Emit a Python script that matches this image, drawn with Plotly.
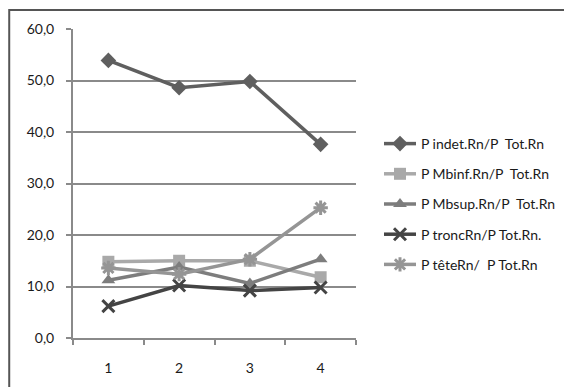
import plotly.graph_objects as go

categories = [1, 2, 3, 4]
tick_labels = ["1", "2", "3", "4"]
series_names = ["P indet.Rn/P  Tot.Rn", "P Mbinf.Rn/P  Tot.Rn", "P Mbsup.Rn/P  Tot.Rn",
                "P troncRn/P Tot.Rn.", "P têteRn/  P Tot.Rn"]
indet = [53.9, 48.6, 49.8, 37.6]
mbinf = [14.8, 15.0, 15.0, 11.8]
mbsup = [11.2, 13.8, 10.6, 15.3]
tronc = [6.2, 10.2, 9.2, 9.8]
tete = [13.6, 12.4, 15.3, 25.3]
y_ticks = [0, 10, 20, 30, 40, 50, 60]
y_tick_labels = ["0,0", "10,0", "20,0", "30,0", "40,0", "50,0", "60,0"]

values = [indet, mbinf, mbsup, tronc, tete]
colors = ["#5f5f5f", "#a9a9a9", "#7d7d7d", "#444444", "#959595"]
symbols = ["diamond", "square", "triangle-up", "x-thin-open", "asterisk-open"]
sizes = [12, 12, 12, 12, 12]

fig = go.Figure()
for i, (name, vals) in enumerate(zip(series_names, values)):
    marker = dict(symbol=symbols[i], size=sizes[i], color=colors[i])
    if symbols[i].endswith("open"):
        marker["line"] = dict(color=colors[i], width=3)
    fig.add_trace(go.Scatter(
        x=categories, y=vals, name=name, mode="lines+markers",
        line=dict(color=colors[i], width=3.5), marker=marker,
        legendgroup=f"g{i}",
    ))

# page body adds an 8px offset; figure coordinates = reference - 8
OFF = 8
W, H = 572 - OFF, 387 - OFF
L, T = 73 - OFF, 29 - OFF
plot_right, plot_bottom = 357 - OFF, 338 - OFF
R, B = W - plot_right, H - plot_bottom
pw, ph = plot_right - L, plot_bottom - T

txt = "#1a1a1a"
fig.update_layout(
    width=W, height=H,
    margin=dict(l=L, r=R, t=T, b=B),
    paper_bgcolor="white", plot_bgcolor="white",
    font=dict(family="Lato, Open Sans, sans-serif", size=14, color=txt),
    showlegend=True,
    legend=dict(x=(379 - OFF - L) / pw, y=(plot_bottom - (128 - OFF)) / ph,
                xanchor="left", yanchor="top",
                traceorder="grouped", tracegroupgap=9, itemwidth=32,
                font=dict(family="Lato, Open Sans, sans-serif", size=14, color=txt),
                bgcolor="rgba(0,0,0,0)"),
    xaxis=dict(range=[0.5, 4.5], tickmode="array", tickvals=categories, ticktext=tick_labels,
               tickfont=dict(color=txt, size=14),
               showgrid=False, zeroline=False, showline=True, linecolor="#8a8a8a", linewidth=2,
               ticks="", ticklabelstandoff=16,
               minor=dict(tickmode="array", tickvals=[0.5, 1.5, 2.5, 3.5, 4.5], ticks="outside",
                          ticklen=5, tickcolor="#8a8a8a", tickwidth=2, showgrid=False)),
    yaxis=dict(range=[0, 60], tickmode="array", tickvals=y_ticks, ticktext=y_tick_labels,
               tickfont=dict(color=txt, size=14),
               showgrid=True, gridcolor="#8a8a8a", gridwidth=2, zeroline=False,
               showline=True, linecolor="#8a8a8a", linewidth=2,
               ticks="outside", ticklen=5, tickcolor="#8a8a8a", tickwidth=2,
               ticklabelstandoff=9),
    shapes=[dict(type="rect", xref="paper", yref="paper",
                 x0=(9 - OFF - L) / pw, x1=(580 - OFF - L) / pw,
                 y0=(plot_bottom - (395 - OFF)) / ph, y1=(plot_bottom - (10 - OFF)) / ph,
                 line=dict(color="#555555", width=2), fillcolor="rgba(0,0,0,0)", layer="above")],
)

fig.write_html("out.html")
